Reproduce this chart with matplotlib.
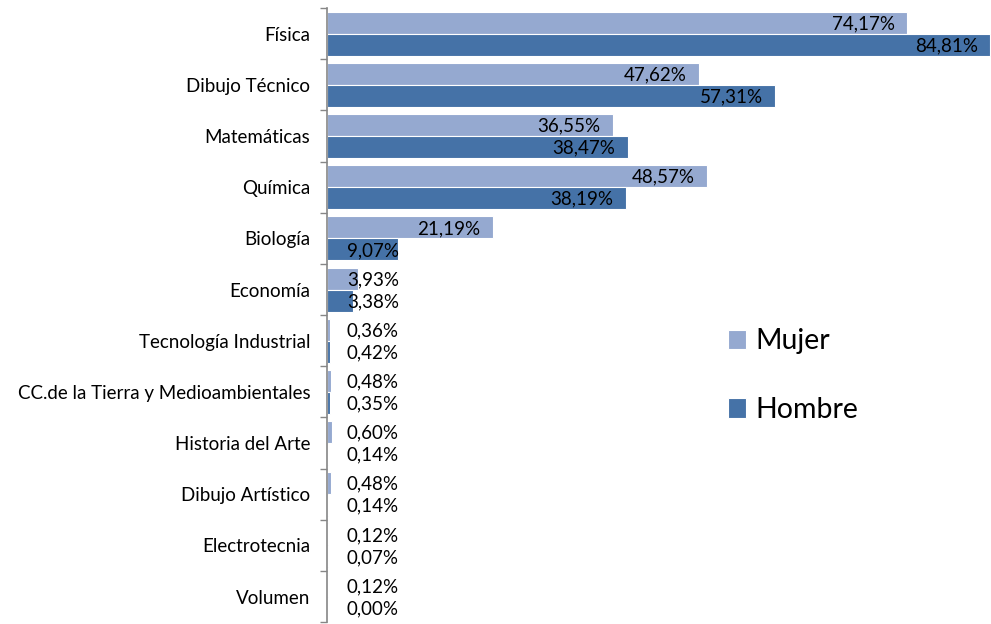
import matplotlib
matplotlib.use("Agg")
import matplotlib.pyplot as plt
import numpy as np

# data (top to bottom as in the chart)
asignaturas = ["Física", "Dibujo Técnico", "Matemáticas", "Química", "Biología",
               "Economía", "Tecnología Industrial",
               "CC.de la Tierra y Medioambientales", "Historia del Arte",
               "Dibujo Artístico", "Electrotecnia", "Volumen"]
mujer = [74.17, 47.62, 36.55, 48.57, 21.19, 3.93, 0.36, 0.48, 0.60, 0.48, 0.12, 0.12]
hombre = [84.81, 57.31, 38.47, 38.19, 9.07, 3.38, 0.42, 0.35, 0.14, 0.14, 0.07, 0.00]

c_mujer = "#95A9D0"
c_hombre = "#4572A7"

plt.rcParams["font.family"] = ["Lato", "DejaVu Sans"]

fig = plt.figure(figsize=(9.91, 6.24), dpi=100)
ax = fig.add_axes([0.330, 0.003, 0.670, 0.984])

n = len(asignaturas)
y = np.arange(n)
h = 0.43
ax.barh(y - h / 2, mujer, height=h, color=c_mujer, edgecolor="white", linewidth=0.8, label="Mujer")
ax.barh(y + h / 2, hombre, height=h, color=c_hombre, edgecolor="white", linewidth=0.8, label="Hombre")

ax.set_xlim(0, 84.9)
ax.set_ylim(n - 0.5, -0.5)


def fmt(v):
    return f"{v:.2f}%".replace(".", ",")


for yy, vals in ((y - h / 2, mujer), (y + h / 2, hombre)):
    for yi, v in zip(yy, vals):
        xt = max(v - 1.6, 9.2)
        ax.text(xt, yi + 0.02, fmt(v), ha="right", va="center", fontsize=13.5, color="black")

ax.set_yticks(np.arange(n + 1) - 0.5, minor=False)
ax.set_yticklabels([])
ax.set_yticks(y, minor=True)
ax.set_yticklabels(asignaturas, minor=True, fontsize=13.5)
ax.tick_params(axis="y", which="major", length=5, color="#868686", width=1)
ax.tick_params(axis="y", which="minor", length=0, pad=12)
ax.set_xticks([])

for s in ["top", "right", "bottom"]:
    ax.spines[s].set_visible(False)
ax.spines["left"].set_color("#868686")
ax.spines["left"].set_linewidth(1.2)

ax.legend(loc="upper left", bbox_to_anchor=(0.566, 0.52), frameon=False,
          fontsize=20.5, handlelength=0.6, handleheight=0.7, handletextpad=0.35,
          labelspacing=1.5)

fig.savefig("out.png", dpi=100)
